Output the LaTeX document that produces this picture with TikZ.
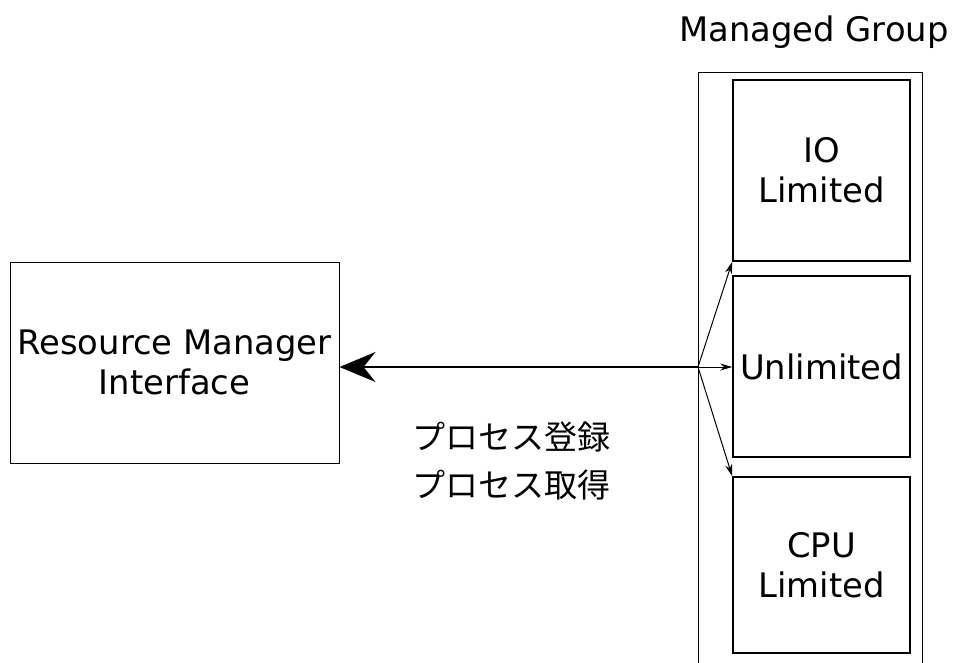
\documentclass[tikz,border=0pt]{standalone}
\usepackage{fontspec}
\setmainfont{DejaVu Sans}
\newfontfamily\cjk{Noto Sans CJK JP}
\usetikzlibrary{arrows.meta}
\begin{document}
\begin{tikzpicture}[x=1pt,y=-1pt,
  lbl/.style={font=\fontsize{33.8}{40}\selectfont},
  box/.style={draw,line width=1.6pt,minimum width=177pt,inner sep=0pt,align=center,lbl},
  thin/.style={line width=1pt,-{Stealth[length=12pt,width=7pt]}}]
\useasboundingbox (0,0) rectangle (954,662);
\node[draw,line width=1pt,minimum width=329pt,minimum height=201pt,inner sep=0pt,align=center,lbl] (rmi) at (174.5,362.5) {Resource Manager\\Interface};
\draw[line width=1pt] (698,666) -- (698,72) coordinate (gtl) -- (922,72) -- (922,666);
\node[lbl] (title) at (814,32) {Managed Group};
\node[box,minimum height=181pt] (io) at (821.5,170.5) {IO\\Limited};
\node[box,minimum height=181pt] (un) at (821.5,366.5) {Unlimited};
\node[box,minimum height=176pt] (cpu) at (821.5,565) {CPU\\Limited};
\coordinate (hub) at (698,367);
\draw[line width=2pt,-{Stealth[length=36pt,width=30pt,inset=12pt]}] (hub) -- (rmi.east |- hub);
\draw[thin] (hub) -- (io.south west);
\draw[thin] (hub) -- (un.west |- hub);
\draw[thin] (hub) -- (cpu.north west);
\node[font=\cjk\fontsize{33}{48}\selectfont,align=left] (jp) at (511,461) {プロセス登録\\プロセス取得};
\end{tikzpicture}
\end{document}
